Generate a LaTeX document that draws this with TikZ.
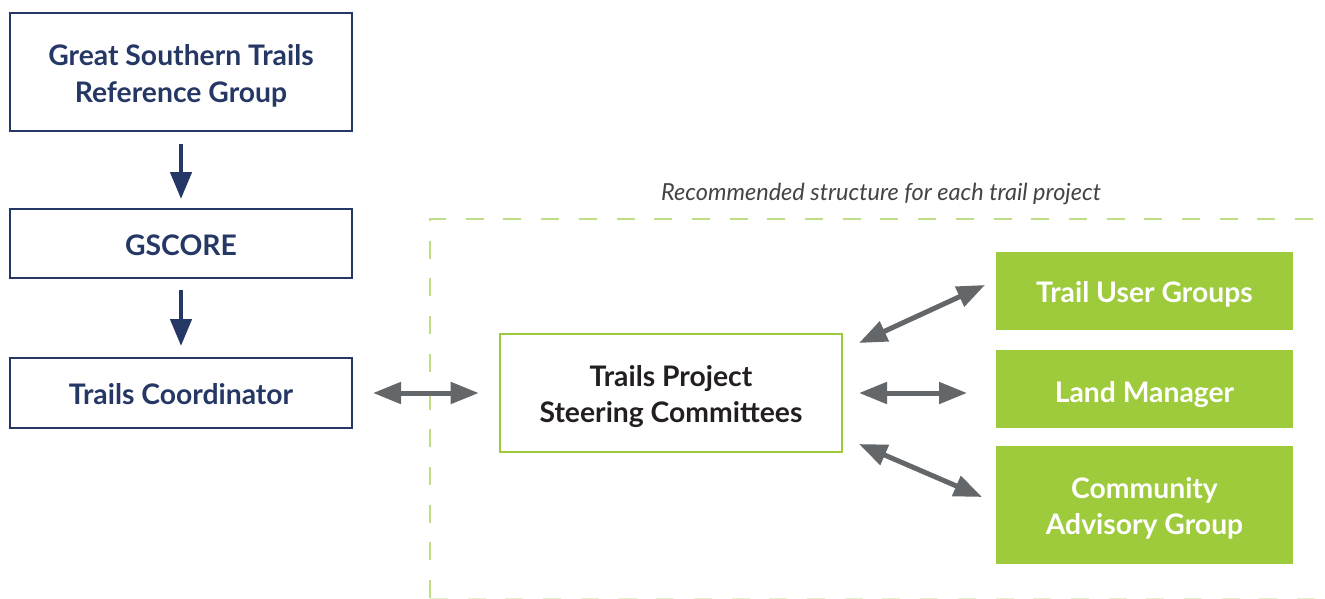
\documentclass[tikz,border=0pt]{standalone}
\usepackage{fontspec}
\setmainfont{Lato}
\usetikzlibrary{arrows.meta}
\definecolor{navy}{HTML}{253764}
\definecolor{lgreen}{HTML}{9DCB3B}
\definecolor{dashgreen}{HTML}{BFDD85}
\definecolor{faintgreen}{HTML}{E6F1D0}
\definecolor{arrgray}{HTML}{63676A}
\definecolor{darktext}{HTML}{231F20}
\definecolor{captext}{HTML}{444444}
\newcommand\boxtext[2][4.3pt]{\raisebox{-#1}[\height][\depth]{\begin{tabular}{@{}c@{}}#2\end{tabular}}}
\tikzset{
  navybox/.style={draw=navy, line width=2pt, fill=white, minimum width=342pt, text=navy, font=\fontsize{28.3}{37}\selectfont\bfseries, inner sep=0pt},
  steerbox/.style={draw=lgreen, line width=2.6pt, fill=white, minimum width=342pt, minimum height=118pt, text=darktext, font=\fontsize{28.3}{36}\selectfont\bfseries, inner sep=0pt},
  greenbox/.style={fill=lgreen, minimum width=297pt, text=white, font=\fontsize{28.3}{36}\selectfont\bfseries, inner sep=0pt},
  navyarrow/.style={draw=navy, line width=4.5pt, -{Triangle[width=21pt,length=27pt]}},
  grayarrow/.style={draw=arrgray, line width=5pt, {Triangle[width=21pt,length=28pt]}-{Triangle[width=21pt,length=28pt]}},
  dashframe/.style={line width=2pt, dash pattern=on 18pt off 19.7pt},
}
\begin{document}
\begin{tikzpicture}[x=1pt,y=-1pt]
\useasboundingbox (0,0) rectangle (1325,599);
\clip (0,0) rectangle (1325,599);
\fill[white] (0,0) rectangle (1325,599);
% dashed frame
\draw[dashframe, draw=dashgreen] (430,598) -- (430,219) -- (1340,219);
\draw[dashframe, draw=faintgreen] (430,599) -- (1340,599);
\node[font=\fontsize{23.5}{28}\selectfont\itshape, text=captext, anchor=base] (cap) at (881,200) {Recommended structure for each trail project};
% left column
\node[navybox, minimum height=118pt] (ref) at (181,72) {\boxtext{Great Southern Trails\\Reference Group}};
\node[navybox, minimum height=69pt] (gscore) at (181,243.5) {\boxtext{GSCORE}};
\node[navybox, minimum height=70pt] (coord) at (181,393) {\boxtext{Trails Coordinator}};
\draw[navyarrow, shorten <=12pt, shorten >=9pt] (ref.south) -- (gscore.north);
\draw[navyarrow, shorten <=11pt, shorten >=11pt] (gscore.south) -- (coord.north);
% steering
\node[steerbox] (steer) at (671,393) {\boxtext{Trails Project\\Steering Committees}};
\draw[grayarrow, shorten <=20pt, shorten >=20pt] (coord.east) -- (steer.west);
% green boxes
\node[greenbox, minimum height=78pt] (tug) at (1144.5,291) {\boxtext{Trail User Groups}};
\node[greenbox, minimum height=78pt] (lm) at (1144.5,389.3) {\boxtext[6pt]{Land Manager}};
\node[greenbox, minimum height=118pt] (cag) at (1144.5,505) {\boxtext{Community\\Advisory Group}};
\coordinate (t1) at (859,343);
\coordinate (t2) at (985,285);
\coordinate (m1) at (859,393);
\coordinate (m2) at (967,393);
\coordinate (c1) at (859,444);
\coordinate (c2) at (982,497);
\draw[grayarrow] (t1) -- (t2);
\draw[grayarrow] (m1) -- (m2);
\draw[grayarrow] (c1) -- (c2);
\end{tikzpicture}
\end{document}
